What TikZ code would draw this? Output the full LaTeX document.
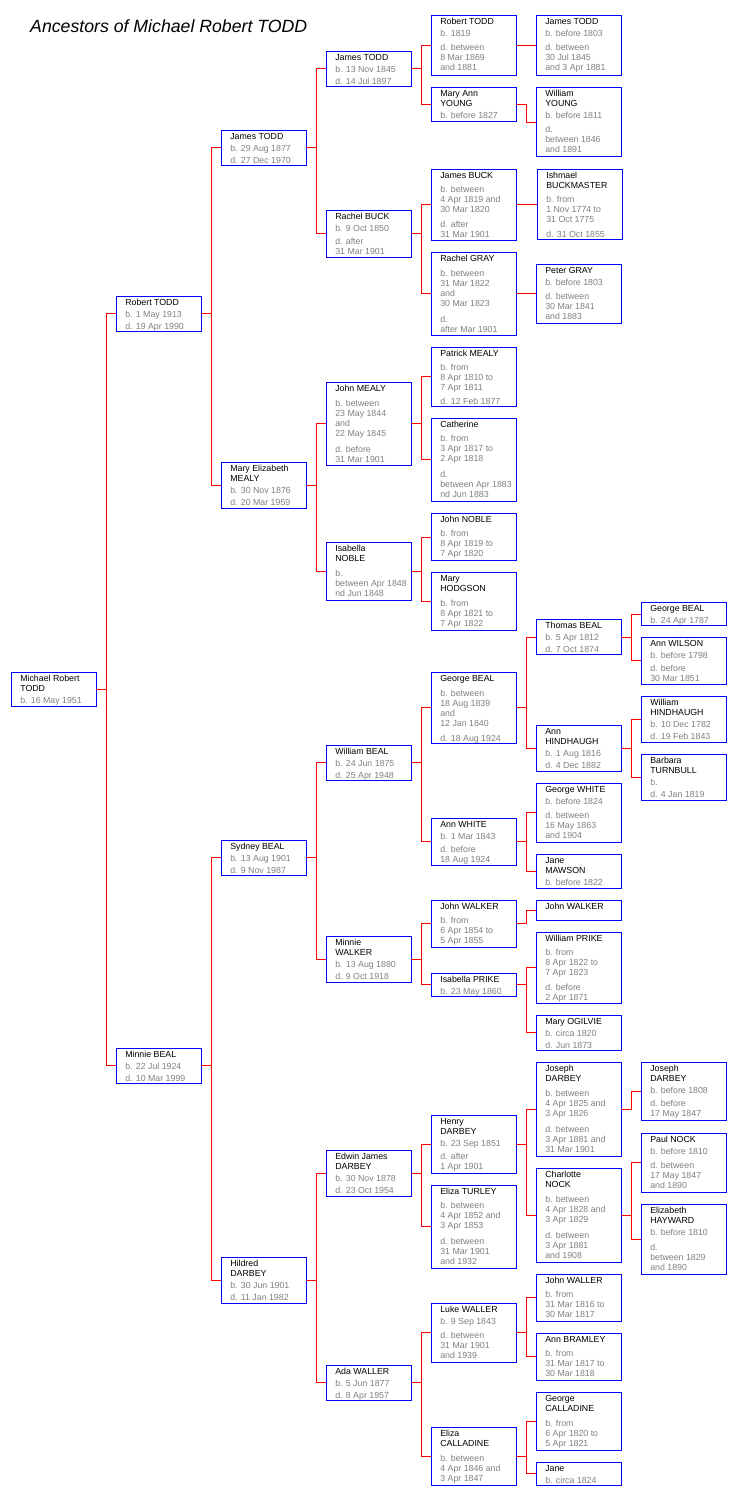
\documentclass[tikz,border=0pt]{standalone}
\usepackage{fontspec}
\setmainfont{Liberation Sans}
\definecolor{dgray}{HTML}{808080}
\definecolor{bblue}{HTML}{0000FF}
\definecolor{rred}{HTML}{FF0000}
\newcommand\gapN{\\[0.7pt]}
\newcommand\gapA{\\[2pt]}
\newcommand\gapB{\\[3.1pt]}
\newcommand\gapC{\\[4.2pt]}
\newcommand\gapD{\\[5.3pt]}
\newcommand\gapE{\\[6.4pt]}
\newcommand\dts{\color{dgray}}
\tikzset{
  pbox/.style={draw=bblue, line width=1pt, minimum width=85pt, inner sep=0pt, outer sep=0pt, fill=white},
  ptxt/.style={anchor=base west, inner sep=0pt, outer sep=0pt, font=\fontsize{8.8}{10}\selectfont, text=black},
  conn/.style={draw=rred, line width=1pt},
  ttl/.style={anchor=base west, inner sep=0pt, font=\fontsize{17.7}{20}\selectfont\itshape}
}
\newcommand\pers[5]{%
  \node[pbox, minimum height={(#4)-(#3)}, anchor=north west] (#1) at (#2,#3) {};
  \node[ptxt] (#1-t) at ({#2+9},{#3+8.8}) {\parbox[t]{80pt}{\raggedright #5}};
}
\begin{document}
\begin{tikzpicture}[x=1pt,y=-1pt]
\fill[white] (0,0) rectangle (741,1495);
\useasboundingbox (0,0) rectangle (741,1495);
\node[ttl] (title) at (30,32.3) {Ancestors of Michael Robert TODD};

% generation 0
\pers{m0}{11.3}{672.3}{706.3}{Michael Robert\gapN TODD\dts\gapA b. 16 May 1951}
% generation 1
\pers{p1a}{116.3}{296.3}{331.3}{Robert TODD\dts\gapA b. 1 May 1913\gapA d. 19 Apr 1990}
\pers{p1b}{116.3}{1048.3}{1083.3}{Minnie BEAL\dts\gapA b. 22 Jul 1924\gapA d. 10 Mar 1999}
% generation 2
\pers{p2a}{221.3}{130.3}{165.3}{James TODD\dts\gapA b. 29 Aug 1877\gapA d. 27 Dec 1970}
\pers{p2b}{221.3}{462.3}{508.3}{Mary Elizabeth\gapN MEALY\dts\gapA b. 30 Nov 1876\gapA d. 20 Mar 1959}
\pers{p2c}{221.3}{840.3}{875.3}{Sydney BEAL\dts\gapA b. 13 Aug 1901\gapA d. 9 Nov 1987}
\pers{p2d}{221.3}{1257.3}{1303.3}{Hildred\gapN DARBEY\dts\gapA b. 30 Jun 1901\gapA d. 11 Jan 1982}
% generation 3
\pers{p3a}{326.3}{51.3}{86.3}{James TODD\dts\gapA b. 13 Nov 1845\gapA d. 14 Jul 1897}
\pers{p3b}{326.3}{210.3}{257.3}{Rachel BUCK\dts\gapA b. 9 Oct 1850\gapB d. after\\31 Mar 1901}
\pers{p3c}{326.3}{382.3}{465.3}{John MEALY\dts\gapD b. between\\23 May 1844\\and\\22 May 1845\gapE d. before\\31 Mar 1901}
\pers{p3d}{326.3}{542.3}{600.3}{Isabella\gapN NOBLE\dts\gapC b.\\between Apr 1848\\nd Jun 1848}
\pers{p3e}{326.3}{745.3}{780.3}{William BEAL\dts\gapA b. 24 Jun 1875\gapA d. 25 Apr 1948}
\pers{p3f}{326.3}{936.3}{982.3}{Minnie\gapN WALKER\dts\gapA b. 13 Aug 1880\gapA d. 9 Oct 1918}
\pers{p3g}{326.3}{1150.3}{1196.3}{Edwin James\gapN DARBEY\dts\gapA b. 30 Nov 1878\gapA d. 23 Oct 1954}
\pers{p3h}{326.3}{1365.3}{1400.3}{Ada WALLER\dts\gapA b. 5 Jun 1877\gapA d. 8 Apr 1957}
% generation 4
\pers{p4a}{431.3}{16}{75.3}{Robert TODD\dts\gapA b. 1819\gapC d. between\\8 Mar 1869\\and 1881}
\pers{p4b}{431.3}{87.3}{121.3}{Mary Ann\gapN YOUNG\dts\gapA b. before 1827}
\pers{p4c}{431.3}{169.3}{240.3}{James BUCK\dts\gapC b. between\\4 Apr 1819 and\\30 Mar 1820\gapD d. after\\31 Mar 1901}
\pers{p4d}{431.3}{252.3}{335}{Rachel GRAY\dts\gapD b. between\\31 Mar 1822\\and\\30 Mar 1823\gapE d.\\after Mar 1901}
\pers{p4e}{431.3}{347.3}{406.3}{Patrick MEALY\dts\gapC b. from\\8 Apr 1810 to\\7 Apr 1811\gapC d. 12 Feb 1877}
\pers{p4f}{431.3}{418.3}{501.3}{Catherine\dts\gapC b. from\\3 Apr 1817 to\\2 Apr 1818\gapE d.\\between Apr 1883\\nd Jun 1883}
\pers{p4g}{431.3}{513.3}{560.7}{John NOBLE\dts\gapC b. from\\8 Apr 1819 to\\7 Apr 1820}
\pers{p4h}{431.3}{572.3}{630.3}{Mary\gapN HODGSON\dts\gapC b. from\\8 Apr 1821 to\\7 Apr 1822}
\pers{p4i}{431.3}{672.3}{743.3}{George BEAL\dts\gapD b. between\\18 Aug 1839\\and\\12 Jan 1840\gapD d. 18 Aug 1924}
\pers{p4j}{431.3}{818.3}{865}{Ann WHITE\dts\gapA b. 1 Mar 1843\gapB d. before\\18 Aug 1924}
\pers{p4k}{431.3}{900.3}{947.3}{John WALKER\dts\gapC b. from\\6 Apr 1854 to\\5 Apr 1855}
\pers{p4l}{431.3}{973.3}{996.3}{Isabella PRIKE\dts\gapA b. 23 May 1860}
\pers{p4m}{431.3}{1115.3}{1173.3}{Henry\gapN DARBEY\dts\gapA b. 23 Sep 1851\gapB d. after\\1 Apr 1901}
\pers{p4n}{431.3}{1185.3}{1268.3}{Eliza TURLEY\dts\gapC b. between\\4 Apr 1852 and\\3 Apr 1853\gapE d. between\\31 Mar 1901\\and 1932}
\pers{p4o}{431.3}{1303.3}{1362.3}{Luke WALLER\dts\gapA b. 9 Sep 1843\gapC d. between\\31 Mar 1901\\and 1939}
\pers{p4p}{431.3}{1427.3}{1485.3}{Eliza\gapN CALLADINE\dts\gapC b. between\\4 Apr 1846 and\\3 Apr 1847}
% generation 5
\pers{p5a}{536.3}{16}{75.3}{James TODD\dts\gapA b. before 1803\gapC d. between\\30 Jul 1845\\and 3 Apr 1881}
\pers{p5b}{536.3}{87.3}{157}{William\gapN YOUNG\dts\gapA b. before 1811\gapC d.\\between 1846\\and 1891}
\pers{p5c}{537.3}{169.3}{239.3}{Ishmael\gapN BUCKMASTER\dts\gapC b. from\\1 Nov 1774 to\\31 Oct 1775\gapC d. 31 Oct 1855}
\pers{p5d}{536.3}{264.3}{323.3}{Peter GRAY\dts\gapA b. before 1803\gapC d. between\\30 Mar 1841\\and 1883}
\pers{p5e}{536.3}{619.3}{654.7}{Thomas BEAL\dts\gapA b. 5 Apr 1812\gapA d. 7 Oct 1874}
\pers{p5f}{536.3}{725.3}{771.3}{Ann\gapN HINDHAUGH\dts\gapA b. 1 Aug 1816\gapA d. 4 Dec 1882}
\pers{p5g}{536.3}{783.3}{842.3}{George WHITE\dts\gapA b. before 1824\gapC d. between\\16 May 1863\\and 1904}
\pers{p5h}{536.3}{854.3}{888.3}{Jane\gapN MAWSON\dts\gapA b. before 1822}
\pers{p5i}{536.3}{900.3}{920.7}{John WALKER}
\pers{p5j}{536.3}{932.3}{1003.3}{William PRIKE\dts\gapC b. from\\8 Apr 1822 to\\7 Apr 1823\gapD d. before\\2 Apr 1871}
\pers{p5k}{536.3}{1015.3}{1050.3}{Mary OGILVIE\dts\gapA b. circa 1820\gapA d. Jun 1873}
\pers{p5l}{536.3}{1062.3}{1156.3}{Joseph\gapN DARBEY\dts\gapC b. between\\4 Apr 1825 and\\3 Apr 1826\gapE d. between\\3 Apr 1881 and\\31 Mar 1901}
\pers{p5m}{536.3}{1168.3}{1262.3}{Charlotte\gapN NOCK\dts\gapC b. between\\4 Apr 1828 and\\3 Apr 1829\gapE d. between\\3 Apr 1881\\and 1908}
\pers{p5n}{536.3}{1274.3}{1321.3}{John WALLER\dts\gapC b. from\\31 Mar 1816 to\\30 Mar 1817}
\pers{p5o}{536.3}{1333.3}{1380.3}{Ann BRAMLEY\dts\gapC b. from\\31 Mar 1817 to\\30 Mar 1818}
\pers{p5p}{536.3}{1392.3}{1450.3}{George\gapN CALLADINE\dts\gapC b. from\\6 Apr 1820 to\\5 Apr 1821}
\pers{p5q}{536.3}{1462.3}{1485.3}{Jane\dts\gapA b. circa 1824}
% generation 6
\pers{p6a}{641.3}{602.3}{625.7}{George BEAL\dts\gapA b. 24 Apr 1787}
\pers{p6b}{641.3}{637.3}{684.3}{Ann WILSON\dts\gapA b. before 1798\gapB d. before\\30 Mar 1851}
\pers{p6c}{641.3}{696.3}{742.3}{William\gapN HINDHAUGH\dts\gapA b. 10 Dec 1782\gapA d. 19 Feb 1843}
\pers{p6d}{641.3}{754.3}{800}{Barbara\gapN TURNBULL\dts\gapA b.\gapA d. 4 Jan 1819}
\pers{p6e}{641.3}{1062.3}{1120.3}{Joseph\gapN DARBEY\dts\gapA b. before 1808\gapB d. before\\17 May 1847}
\pers{p6f}{641.3}{1133.3}{1192.3}{Paul NOCK\dts\gapA b. before 1810\gapC d. between\\17 May 1847\\and 1890}
\pers{p6g}{641.3}{1204.3}{1274.3}{Elizabeth\gapN HAYWARD\dts\gapA b. before 1810\gapC d.\\between 1829\\and 1890}

% connectors
\foreach \c/\p in {m0/p1a, m0/p1b,
  p1a/p2a, p1a/p2b, p1b/p2c, p1b/p2d,
  p2a/p3a, p2a/p3b, p2b/p3c, p2b/p3d, p2c/p3e, p2c/p3f, p2d/p3g, p2d/p3h,
  p3a/p4a, p3a/p4b, p3b/p4c, p3b/p4d, p3c/p4e, p3c/p4f, p3d/p4g, p3d/p4h,
  p3e/p4i, p3e/p4j, p3f/p4k, p3f/p4l, p3g/p4m, p3g/p4n, p3h/p4o, p3h/p4p,
  p4a/p5a, p4b/p5b, p4c/p5c, p4d/p5d, p4i/p5e, p4i/p5f, p4j/p5g, p4j/p5h,
  p4k/p5i, p4l/p5j, p4l/p5k, p4m/p5l, p4m/p5m, p4o/p5n, p4o/p5o, p4p/p5p, p4p/p5q,
  p5e/p6a, p5e/p6b, p5f/p6c, p5f/p6d, p5l/p6e, p5m/p6f, p5m/p6g}
  \draw[conn] (\c.east) -- ++(10,0) |- (\p.west);
\end{tikzpicture}
\end{document}
